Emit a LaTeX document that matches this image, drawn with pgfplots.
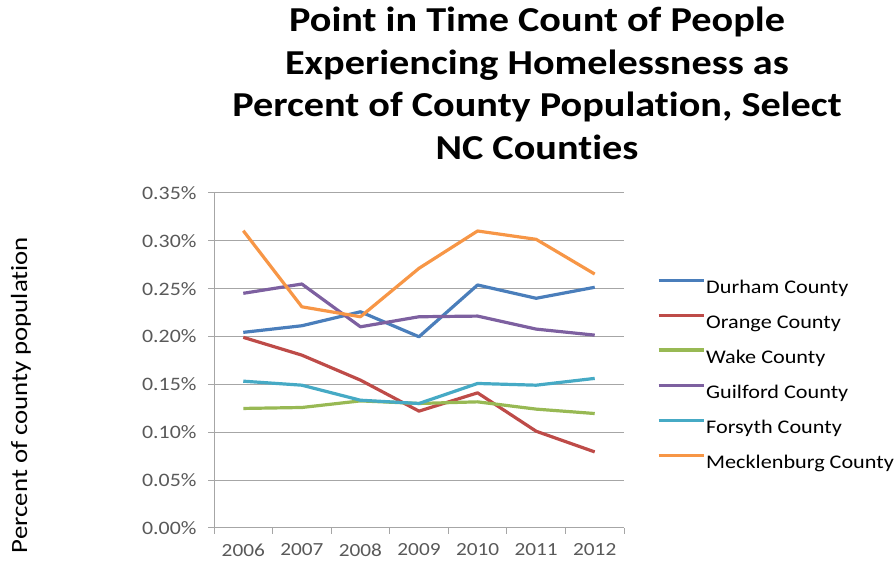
\documentclass[border=0pt]{standalone}
\usepackage{pgfplots}
\pgfplotsset{compat=1.18}
\usepackage{fontspec}
\setmainfont{Carlito}[FakeStretch=1.15, Ligatures=NoCommon]
\definecolor{durham}{HTML}{4A7EBB}
\definecolor{orangec}{HTML}{BE4B48}
\definecolor{wake}{HTML}{98B954}
\definecolor{guilford}{HTML}{7D60A0}
\definecolor{forsyth}{HTML}{46AAC5}
\definecolor{meck}{HTML}{F79646}
\definecolor{gridgray}{HTML}{A6A6A6}
\definecolor{ticktext}{HTML}{595959}

\begin{document}
\begin{tikzpicture}[x=1pt,y=1pt]
\path[use as bounding box] (0,0) rectangle (895,565);
\begin{axis}[
    at={(214pt,37pt)}, anchor=south west,
    scale only axis,
    width=410pt, height=335pt,
    xmin=-0.5, xmax=6.5,
    ymin=0, ymax=0.35,
    xtick={0,...,6},
    xticklabels={2006,2007,2008,2009,2010,2011,2012},
    minor xtick={-0.5,0.5,...,6.5},
    ytick={0,0.05,...,0.35},
    yticklabel={\pgfmathprintnumber[fixed,fixed zerofill,precision=2]{\tick}\%},
    /pgf/number format/assume math mode=true,
    ymajorgrids, grid style={gridgray, line width=1pt},
    axis x line*=bottom, axis y line*=left,
    axis line style={gridgray, line width=1pt},
    x axis line style={-}, y axis line style={-},
    tick style={gridgray, line width=1pt},
    major tick length=6pt,
    minor tick length=6pt,
    tick align=outside,
    xtick style={draw=none},
    minor x tick style={draw=gridgray},
    ticklabel style={text=ticktext},
    yticklabel style={font=\fontsize{19}{21}\selectfont, xshift=-8pt},
    xticklabel style={font=\fontsize{18.5}{20}\selectfont, yshift=-6pt},
    every axis plot/.append style={line width=3.2pt, no markers, line join=round},
    legend style={at={(1.0805,0.7445)}, anchor=north west, draw=none, fill=none,
        inner sep=0pt, outer sep=0pt,
        font=\fontsize{19.3}{21}\selectfont, row sep=17.6pt,
        nodes={inner sep=1pt},
        /tikz/every even column/.append style={column sep=4pt}},
    legend cell align=left,
    legend image code/.code={\draw[#1] (0pt,7.5pt) -- (45pt,7.5pt);},
]
\addplot[durham] coordinates {(0,0.2044)(1,0.2113)(2,0.2259)(3,0.1998)(4,0.2539)(5,0.2400)(6,0.2515)};
\addlegendentry{Durham County}
\addplot[orangec] coordinates {(0,0.1992)(1,0.1806)(2,0.1545)(3,0.1221)(4,0.1412)(5,0.1011)(6,0.0795)};
\addlegendentry{Orange County}
\addplot[wake] coordinates {(0,0.1249)(1,0.1259)(2,0.1328)(3,0.1301)(4,0.1318)(5,0.1242)(6,0.1196)};
\addlegendentry{Wake County}
\addplot[guilford] coordinates {(0,0.2452)(1,0.2549)(2,0.2102)(3,0.2207)(4,0.2214)(5,0.2078)(6,0.2015)};
\addlegendentry{Guilford County}
\addplot[forsyth] coordinates {(0,0.1534)(1,0.1492)(2,0.1335)(3,0.1301)(4,0.1510)(5,0.1492)(6,0.1563)};
\addlegendentry{Forsyth County}
\addplot[meck] coordinates {(0,0.3106)(1,0.2311)(2,0.2207)(3,0.2713)(4,0.3103)(5,0.3016)(6,0.2653)};
\addlegendentry{Mecklenburg County}
\end{axis}
\node[align=center, inner sep=0pt, font=\fontsize{35}{42.5}\selectfont\bfseries, anchor=north]
  at (537,558) {Point in Time Count of People\\Experiencing Homelessness as\\Percent of County Population, Select\\NC Counties};
\node[rotate=90, font=\fontsize{23.3}{25}\selectfont] at (21,170) {Percent of county population};
\end{tikzpicture}
\end{document}
